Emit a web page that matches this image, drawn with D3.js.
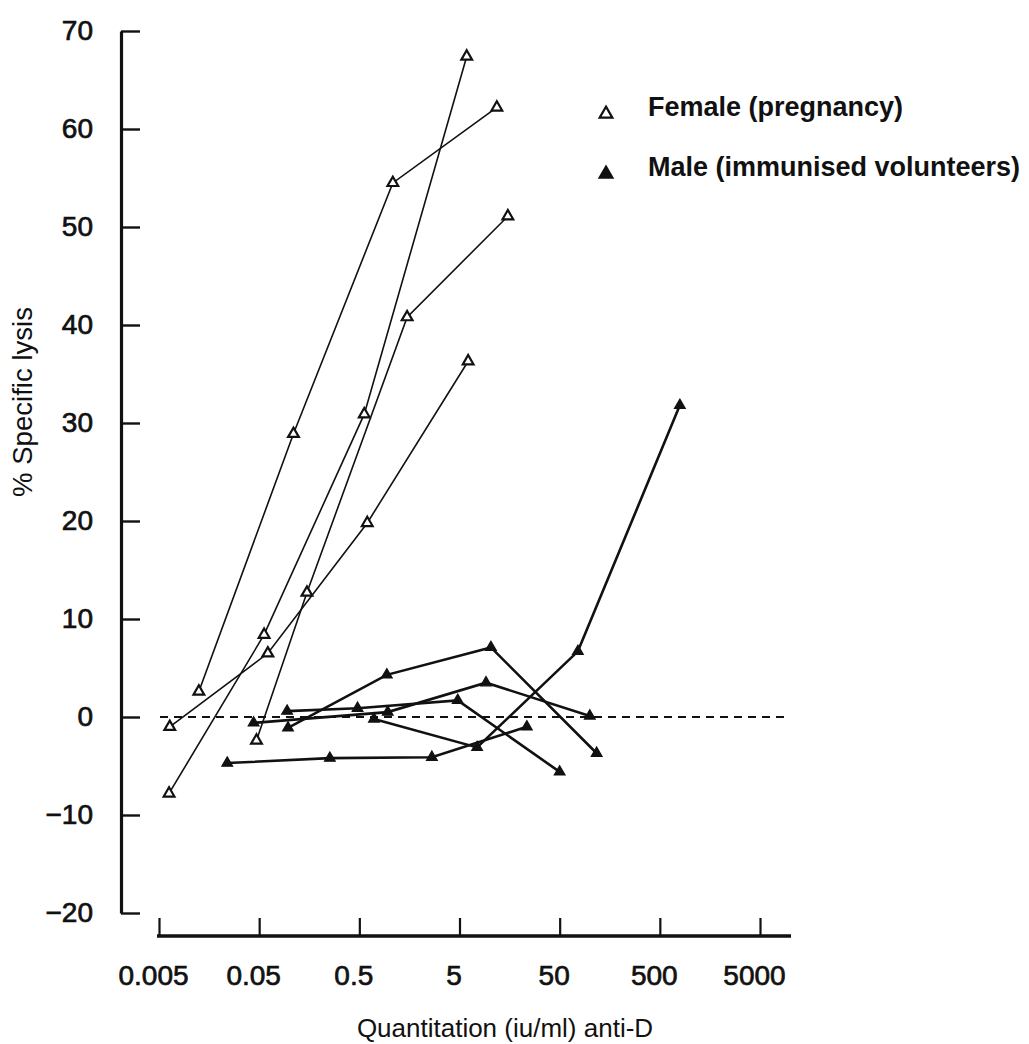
<!DOCTYPE html>
<html>
<head>
<meta charset="utf-8">
<script src="https://cdn.jsdelivr.net/npm/d3@7"></script>
<style>
  html, body { margin: 0; background: #fff; }
  svg { display: block; }
</style>
</head>
<body>
<svg id="chart" width="1029" height="1044"></svg>
<script>
// Anti-D quantitation (iu/ml) against % specific lysis, one line per donor.
const xTickValues = [0.005, 0.05, 0.5, 5, 50, 500, 5000];
const xTickLabels = ["0.005", "0.05", "0.5", "5", "50", "500", "5000"];
const yTickValues = [-20, -10, 0, 10, 20, 30, 40, 50, 60, 70];
const yTickLabels = ["\u221220", "\u221210", "0", "10", "20", "30", "40", "50", "60", "70"];

// Female donors (pregnancy): concentration, lysis
const femaleConc1 = [0.0063, 0.056, 0.56, 5.9];
const femaleLysis1 = [-7.8, 8.4, 30.9, 67.4];
const femaleConc2 = [0.0125, 0.11, 1.08, 11.8];
const femaleLysis2 = [2.6, 28.9, 54.5, 62.2];
const femaleConc3 = [0.0064, 0.061, 0.6, 6.1];
const femaleLysis3 = [-1.0, 6.5, 19.8, 36.3];
const femaleConc4 = [0.047, 0.15, 1.5, 15.2];
const femaleLysis4 = [-2.4, 12.7, 40.8, 51.1];

// Male donors (immunised volunteers)
const maleConc1 = [0.024, 0.254, 2.65, 23.5];
const maleLysis1 = [-4.7, -4.2, -4.1, -1.0];
const maleConc2 = [0.097, 0.94, 10.3, 117];
const maleLysis2 = [-1.1, 4.3, 7.1, -3.7];
const maleConc3 = [0.044, 0.96, 9.2, 100];
const maleLysis3 = [-0.6, 0.5, 3.5, 0.1];
const maleConc4 = [0.095, 0.48, 4.8, 50];
const maleLysis4 = [0.6, 0.9, 1.7, -5.6];
const maleConc5 = [0.70, 7.5, 76, 792];
const maleLysis5 = [-0.2, -3.1, 6.7, 31.8];

const legendLabels = ["Female (pregnancy)", "Male (immunised volunteers)"];

const zip = (a, b) => a.map((v, i) => [v, b[i]]);
const femaleSeries = [
  zip(femaleConc1, femaleLysis1), zip(femaleConc2, femaleLysis2),
  zip(femaleConc3, femaleLysis3), zip(femaleConc4, femaleLysis4)
];
const maleSeries = [
  zip(maleConc1, maleLysis1), zip(maleConc2, maleLysis2), zip(maleConc3, maleLysis3),
  zip(maleConc4, maleLysis4), zip(maleConc5, maleLysis5)
];

const svg = d3.select("#chart");
const ink = "#111";
const font = "'Liberation Sans', Arial, sans-serif";

const x = d3.scaleLog().domain([0.005, 5000]).range([159, 760]);
const y = d3.scaleLinear().domain([-20, 70]).range([913, 31]);

function styleTickText(sel) {
  sel.attr("fill", ink)
    .attr("stroke", ink)
    .attr("stroke-width", 0.7)
    .style("font-family", font)
    .style("font-size", "28px");
}

// y axis: ticks point inwards, labels on the left
const yAxis = d3.axisLeft(y)
  .tickValues(yTickValues)
  .tickFormat((d, i) => yTickLabels[i])
  .tickSizeInner(-19)
  .tickSizeOuter(0)
  .tickPadding(28);
const gy = svg.append("g").attr("transform", "translate(121,0)").call(yAxis);
gy.select(".domain").attr("stroke", ink).attr("stroke-width", 3.2);
gy.selectAll(".tick line").attr("stroke", ink).attr("stroke-width", 2.4);
gy.selectAll(".tick text").call(styleTickText);

// x axis: ticks point upwards, detached from the y axis
const xAxis = d3.axisBottom(x)
  .tickValues(xTickValues)
  .tickFormat((d, i) => xTickLabels[i])
  .tickSizeInner(-18)
  .tickSizeOuter(0)
  .tickPadding(29);
const gx = svg.append("g").attr("transform", "translate(0,936)").call(xAxis);
gx.select(".domain").remove();
gx.append("line")
  .attr("x1", 157).attr("x2", 791).attr("y1", 0).attr("y2", 0)
  .attr("stroke", ink).attr("stroke-width", 3.6);
gx.selectAll(".tick line").attr("stroke", ink).attr("stroke-width", 2.2);
gx.selectAll(".tick text").call(styleTickText).attr("dx", -6);

// axis titles
svg.append("text")
  .attr("transform", "translate(32,402) rotate(-90)")
  .attr("text-anchor", "middle")
  .attr("textLength", 190)
  .attr("lengthAdjust", "spacingAndGlyphs")
  .attr("fill", ink)
  .style("font-family", "'Liberation Sans Narrow', 'Liberation Sans', Arial, sans-serif")
  .style("font-size", "28px")
  .text("% Specific lysis");

svg.append("text")
  .attr("x", 505).attr("y", 1037)
  .attr("text-anchor", "middle")
  .attr("fill", ink)
  .style("font-family", font)
  .style("font-size", "26px")
  .text("Quantitation (iu/ml) anti-D");

// zero reference line
svg.append("line")
  .attr("x1", 160).attr("x2", 790)
  .attr("y1", y(0)).attr("y2", y(0))
  .attr("stroke", ink).attr("stroke-width", 2)
  .attr("stroke-dasharray", "8,6");

const line = d3.line().x(d => x(d[0])).y(d => y(d[1]));
const tri = d3.symbol(d3.symbolTriangle, 50);

// male lines (heavier)
svg.append("g").selectAll("path").data(maleSeries).join("path")
  .attr("d", line).attr("fill", "none")
  .attr("stroke", ink).attr("stroke-width", 2.6);

// female lines
svg.append("g").selectAll("path").data(femaleSeries).join("path")
  .attr("d", line).attr("fill", "none")
  .attr("stroke", ink).attr("stroke-width", 1.6);

svg.append("g").selectAll("path").data(maleSeries.flat()).join("path")
  .attr("d", tri)
  .attr("transform", d => `translate(${x(d[0])},${y(d[1])})`)
  .attr("fill", ink).attr("stroke", ink).attr("stroke-width", 1.2);

svg.append("g").selectAll("path").data(femaleSeries.flat()).join("path")
  .attr("d", tri)
  .attr("transform", d => `translate(${x(d[0])},${y(d[1])})`)
  .attr("fill", "#fff").attr("stroke", ink).attr("stroke-width", 2.2);

// legend
const legend = svg.append("g");
const legendRows = [{ label: legendLabels[0], filled: false, yPos: 114 },
                    { label: legendLabels[1], filled: true, yPos: 174 }];
legendRows.forEach(r => {
  legend.append("path")
    .attr("d", d3.symbol(d3.symbolTriangle, 70))
    .attr("transform", `translate(606,${r.yPos})`)
    .attr("fill", r.filled ? ink : "#fff")
    .attr("stroke", ink).attr("stroke-width", 2.2);
  legend.append("text")
    .attr("x", 648).attr("y", r.yPos + 2)
    .attr("fill", ink)
    .style("font-family", font)
    .style("font-weight", "bold")
    .style("font-size", "27px")
    .text(r.label);
});
</script>
</body>
</html>
